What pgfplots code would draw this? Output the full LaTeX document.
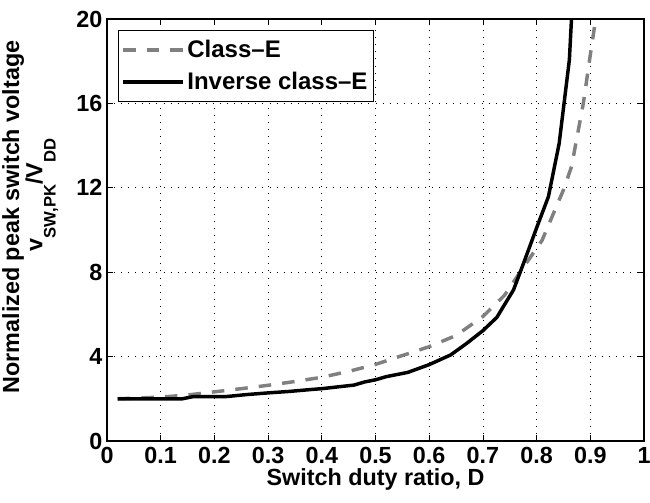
\documentclass[border=0pt]{standalone}
\usepackage{fontspec}
\setmainfont{Liberation Sans}
\usepackage{pgfplots}
\pgfplotsset{compat=1.18}
\definecolor{classegray}{RGB}{128,128,128}

\begin{document}
\begin{tikzpicture}
\begin{axis}[
  at={(0pt,0pt)}, anchor=south west,
  scale only axis, width=402.75pt, height=316.5pt,
  xmin=0, xmax=1, ymin=0, ymax=20,
  xtick={0,0.1,0.2,0.3,0.4,0.5,0.6,0.7,0.8,0.9,1},
  xticklabels={0,0.1,0.2,0.3,0.4,0.5,0.6,0.7,0.8,0.9,1},
  ytick={0,4,8,12,16,20},
  xtick pos=both, ytick pos=both,
  xticklabel pos=lower, yticklabel pos=left,
  tick align=inside, major tick length=4.5pt,
  every tick/.style={black, line width=0.6pt},
  axis line style={line width=0.8pt},
  grid=major,
  grid style={black, line width=0.5pt, dash pattern=on 0.7pt off 4.6pt},
  tick label style={font=\fontsize{17.5}{20}\selectfont\bfseries},
  /pgf/number format/assume math mode=true,
  xticklabel style={yshift=-1pt},
  label style={font=\fontsize{17.5}{12.5}\selectfont\bfseries},
  xlabel={Switch duty ratio, D},
  xlabel style={at={(axis description cs:0.5,-0.055)}, anchor=north},
  ylabel={Normalized peak switch voltage\\\hspace*{33pt}v\raisebox{-10pt}{\fontsize{12.5}{12.5}\selectfont SW,PK}/V\raisebox{-10pt}{\fontsize{12.5}{12.5}\selectfont DD}},
  ylabel style={at={(axis description cs:-0.082,0.531)}, anchor=south, align=center},
  legend style={at={(axis description cs:0.0196,0.974)}, anchor=north west,
    draw=black, line width=0.6pt, font=\fontsize{18}{20}\selectfont\bfseries,
    inner xsep=2.5pt, inner ysep=5.5pt, row sep=5.5pt},
  legend cell align=left,
  legend image code/.code={\draw[#1] (0pt,0pt) -- (45pt,0pt);},
]
% Class-E
\addplot[classegray, line width=2.6pt, dash pattern=on 9.4pt off 8.3pt] coordinates {
  (0.02,2.00) (0.05,2.03) (0.10,2.08) (0.15,2.18) (0.20,2.33) (0.25,2.48)
  (0.30,2.64) (0.35,2.82) (0.40,3.02) (0.45,3.30) (0.50,3.63) (0.55,4.05)
  (0.60,4.47) (0.65,5.00) (0.70,5.90) (0.74,6.90) (0.78,8.40) (0.81,9.50)
  (0.83,10.70) (0.85,11.90) (0.865,13.00) (0.887,16.00) (0.90,18.30) (0.91,20.00)
  (0.915,21.20)
};
\addlegendentry{Class–E}
% Inverse class-E
\addplot[black, line width=2.6pt] coordinates {
  (0.02,2.00) (0.14,2.00) (0.16,2.10) (0.22,2.10) (0.26,2.20) (0.30,2.28)
  (0.34,2.35) (0.38,2.44) (0.40,2.48) (0.46,2.65) (0.48,2.80) (0.50,2.90)
  (0.52,3.05) (0.56,3.25) (0.60,3.62) (0.64,4.08) (0.67,4.63) (0.70,5.23)
  (0.726,5.86) (0.74,6.45) (0.757,7.16) (0.778,8.58) (0.80,10.10) (0.822,11.58)
  (0.842,14.10) (0.861,18.06) (0.865,20.00) (0.867,21.00)
};
\addlegendentry{Inverse class–E}
\end{axis}
\pgfresetboundingbox
\useasboundingbox (-80.25pt,-46.5pt) rectangle (407.25pt,330.75pt);
\end{tikzpicture}
\end{document}
